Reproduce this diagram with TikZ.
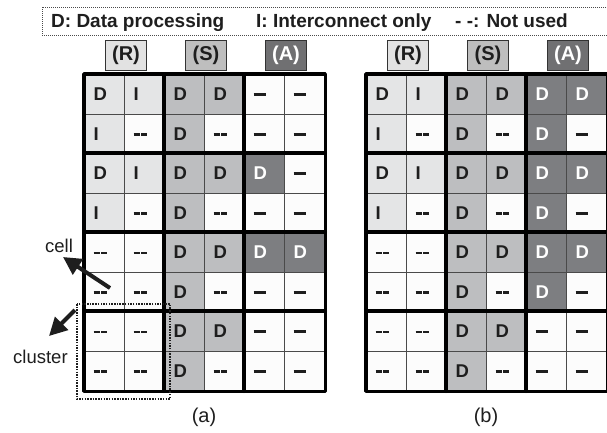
\documentclass[tikz,border=0pt]{standalone}
\usepackage{fontspec}
\setmainfont{Liberation Sans}
\usetikzlibrary{arrows.meta}
\definecolor{Rc}{HTML}{E4E5E6}
\definecolor{Sc}{HTML}{BDBEC0}
\definecolor{Ac}{HTML}{7D7E81}
\definecolor{Wc}{HTML}{FCFCFC}
\definecolor{thinc}{HTML}{4A4A4A}
\definecolor{txt}{HTML}{1E1E1E}
\definecolor{hRc}{HTML}{E2E2E2}
\definecolor{hSc}{HTML}{BEBEBE}
\definecolor{hAc}{HTML}{707072}
\definecolor{hdrline}{HTML}{333333}
\tikzset{
  cellbox/.style={anchor=north west, minimum width=40pt, minimum height=39.5pt,
    text width=22pt, inner xsep=9pt, inner ysep=0pt, align=left,
    draw=thinc, line width=1.3pt, font=\fontsize{18.5}{18.5}\selectfont\bfseries, text=txt},
  tRD/.style={fill=Rc}, tRI/.style={fill=Rc}, tSD/.style={fill=Sc},
  tAD/.style={fill=Ac, text=white}, tWn/.style={fill=Wc}, tWm/.style={fill=Wc},
  clus/.style={line width=3.4pt, draw=black, line cap=round, line join=round},
  hdr/.style={minimum width=41pt, minimum height=30pt, inner sep=0pt,
    draw=hdrline, line width=1.3pt, font=\fontsize{20}{20}\selectfont\bfseries, text=txt},
  legtext/.style={anchor=base west, inner sep=0pt, font=\fontsize{19}{19}\selectfont\bfseries, text=txt},
  lab/.style={inner sep=0pt, font=\fontsize{18.5}{18.5}\selectfont, text=txt},
  caplab/.style={inner sep=0pt, font=\fontsize{20}{20}\selectfont, text=txt},
  bigarrow/.style={line width=4pt, draw=txt, -{Triangle[length=18pt,width=18pt]}},
}
\def\txtRD{D}\def\txtRI{I}\def\txtSD{D}\def\txtAD{D}
\def\txtWn{\rule[4.4pt]{6pt}{2.6pt}\hspace{1.8pt}\rule[4.4pt]{6pt}{2.6pt}}
\def\txtWm{\rule[4.6pt]{12pt}{2.8pt}}
\newcommand\drawgrid[3]{%
  \foreach \row [count=\r] in {#3} {
    \foreach \t [count=\c] in \row {
      \node[cellbox, t\t] (#1-\r-\c) at ({#2+(\c-1)*40},{74+(\r-1)*39.5})
        {\vphantom{D}\csname txt\t\endcsname};
    }
  }
  \draw[clus] (#1-1-1.north west) rectangle (#1-8-6.south east);
  \foreach \c in {3,5} {\draw[clus] (#1-1-\c.north west) -- (#1-8-\c.south west);}
  \foreach \r in {3,5,7} {\draw[clus] (#1-\r-1.north west) -- (#1-\r-6.north east);}
  \node[hdr, fill=hRc] (#1-hR) at ({#2+42},55.5) {(R)};
  \node[hdr, fill=hSc] (#1-hS) at ({#2+122},55.5) {(S)};
  \node[hdr, fill=hAc, text=white] (#1-hA) at ({#2+202},55.5) {(A)};
  \node[caplab, anchor=base] (#1-cap) at ({#2+120},422) {(#1)};
}
\begin{document}
\begin{tikzpicture}[x=1pt,y=-1pt]
\useasboundingbox (0,0) rectangle (607,432);
\fill[white] (0,0) rectangle (607,432);
% legend
\draw[draw=thinc, line width=0.9pt, dash pattern=on 1pt off 1pt] (42,7) rectangle (610,35);
\node[legtext] (leg1) at (51,27) {D: Data processing};
\node[legtext] (leg2) at (256,27) {I: Interconnect only};
\node[legtext] (leg3) at (455,27) {- -: Not used};
% grids
\drawgrid{a}{84}{{RD,RI,SD,SD,Wm,Wm},{RI,Wn,SD,Wn,Wm,Wm},{RD,RI,SD,SD,AD,Wm},{RI,Wn,SD,Wn,Wm,Wm},{Wn,Wn,SD,SD,AD,AD},{Wn,Wn,SD,Wn,Wm,Wm},{Wn,Wn,SD,SD,Wm,Wm},{Wn,Wn,SD,Wn,Wm,Wm}}
\drawgrid{b}{366}{{RD,RI,SD,SD,AD,AD},{RI,Wn,SD,Wn,AD,Wm},{RD,RI,SD,SD,AD,AD},{RI,Wn,SD,Wn,AD,Wm},{Wn,Wn,SD,SD,AD,AD},{Wn,Wn,SD,Wn,AD,Wm},{Wn,Wn,SD,SD,Wm,Wm},{Wn,Wn,SD,Wn,Wm,Wm}}
% cluster box
\draw[txt, line width=1.6pt, dash pattern=on 1.5pt off 1.2pt] (77,304) rectangle (170,399);
% arrows and labels
\coordinate (celltail) at (110,288);
\coordinate (celltip) at (63,257);
\coordinate (clustail) at (75,310);
\coordinate (clustip) at (49,336);
\draw[bigarrow] (celltail) -- (celltip);
\draw[bigarrow] (clustail) -- (clustip);
\node[lab, anchor=base west] (celllab) at (45,252) {cell};
\node[lab, anchor=base west] (cluslab) at (13,363) {cluster};
\end{tikzpicture}
\end{document}
